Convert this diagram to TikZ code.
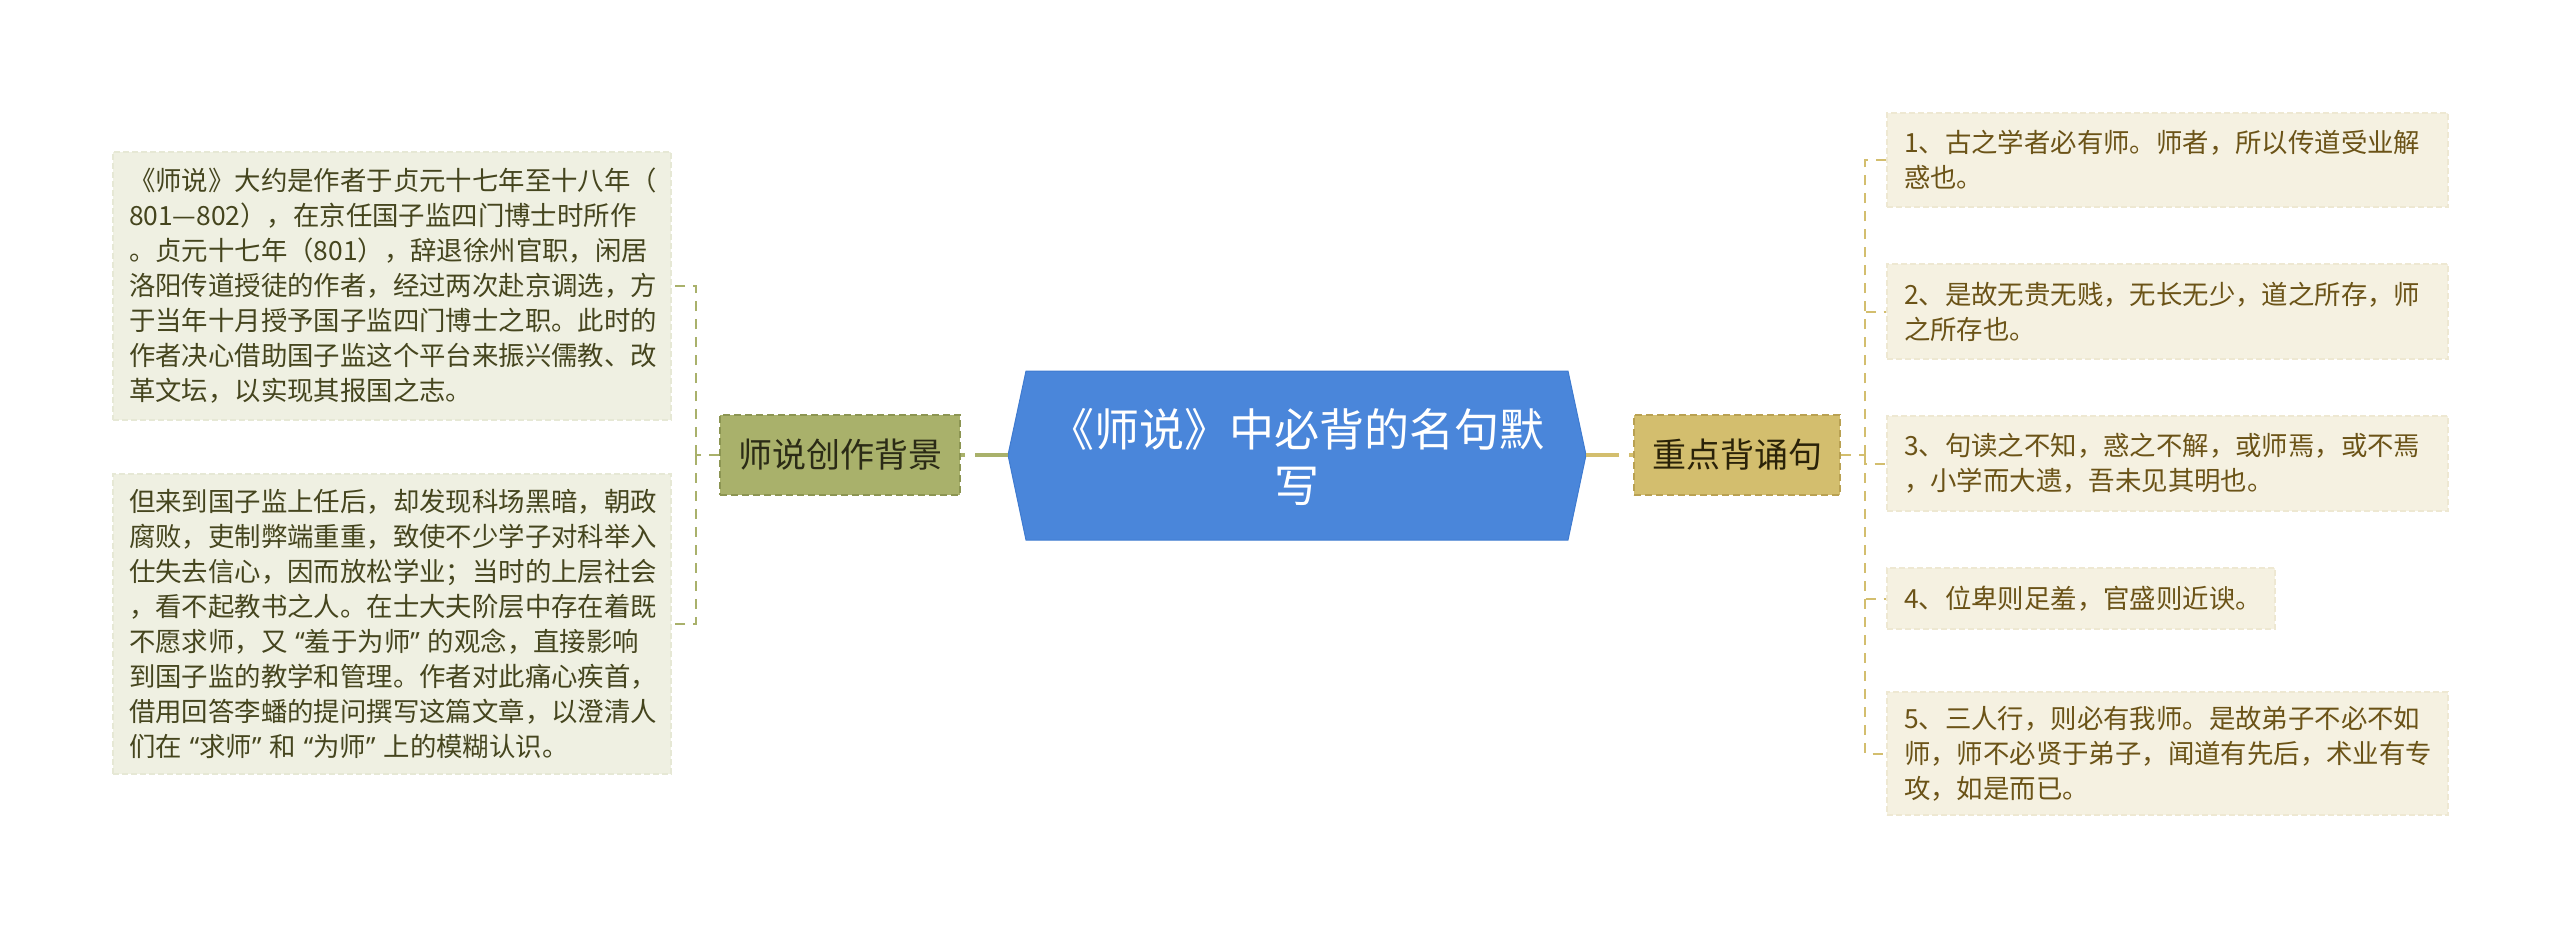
\documentclass[tikz,border=0pt]{standalone}
\usepackage{fontspec}
\setmainfont{Noto Sans CJK SC}
\newfontfamily\qfont{Noto Sans}
\newcommand{\myoq}{\kern8pt{\qfont “}}
\newcommand{\mycq}{{\qfont ”}\kern8pt}
\definecolor{cblue}{HTML}{4A86DA}
\definecolor{cblueline}{HTML}{3F7BD0}
\definecolor{lnfill}{HTML}{A9B16B}
\definecolor{lnline}{HTML}{8C9552}
\definecolor{lntext}{HTML}{2B2B16}
\definecolor{rnfill}{HTML}{D3BE6E}
\definecolor{rnline}{HTML}{B9A152}
\definecolor{rntext}{HTML}{2A2208}
\definecolor{lfill}{HTML}{EFF0E2}
\definecolor{lline}{HTML}{E6E8D5}
\definecolor{ltext}{HTML}{45451E}
\definecolor{rfill}{HTML}{F5F1E1}
\definecolor{rline}{HTML}{EEE8D2}
\definecolor{rtext}{HTML}{6B5317}
\begin{document}
\begin{tikzpicture}[x=1pt,y=-1pt,
  leafl/.style={fill=lfill, draw=lline, line width=1.2pt, dash pattern=on 6pt off 3pt,
    inner xsep=16pt, inner ysep=0pt, text width=#1, align=left, text=ltext,
    font=\fontsize{26.4pt}{35pt}\selectfont},
  leafr/.style={fill=rfill, draw=rline, line width=1.2pt, dash pattern=on 6pt off 3pt,
    inner xsep=17pt, inner ysep=0pt, text width=#1, align=left, text=rtext,
    font=\fontsize{26.4pt}{35pt}\selectfont},
  subl/.style={fill=lnfill, draw=lnline, line width=2pt, dash pattern=on 7pt off 4pt,
    minimum width=240pt, minimum height=80pt, inner sep=0pt, text=lntext,
    font=\fontsize{34pt}{40pt}\selectfont},
  subr/.style={fill=rnfill, draw=rnline, line width=2pt, dash pattern=on 7pt off 4pt,
    minimum width=206pt, minimum height=80pt, inner sep=0pt, text=rntext,
    font=\fontsize{34pt}{40pt}\selectfont},
  ctext/.style={text=white, align=center, inner sep=0pt, font=\fontsize{45pt}{56pt}\selectfont},
  mainl/.style={draw=lnfill, line width=4pt, dash pattern=on 33pt off 10pt},
  mainr/.style={draw=rnfill, line width=4pt, dash pattern=on 33pt off 10pt},
  brl/.style={draw=lnfill, line width=2pt, dash pattern=on 10pt off 8pt},
  brr/.style={draw=rnfill, line width=2pt, dash pattern=on 10pt off 8pt}
]
\fill[white] (0,0) rectangle (2560,929);
\useasboundingbox (0,0) rectangle (2560,929);

% central topic
\filldraw[fill=cblue, draw=cblueline, line width=1pt]
  (1008,455) coordinate (cl) -- (1026,371) -- (1568,371) -- (1586,455) coordinate (cr)
  -- (1568,540) -- (1026,540) -- cycle;
\node[ctext] (center) at (1297,457) {《师说》中必背的名句默\\写};

% sub topics
\node[subl] (ls) at (840,455) {师说创作背景};
\node[subr] (rs) at (1737,455) {重点背诵句};

% left leaves
\node[leafl=526pt, minimum height=268pt] (lb1) at (392,286) {《师说》大约是作者于贞元十七年至十八年（\\801—802），在京任国子监四门博士时所作\\。贞元十七年（801），辞退徐州官职，闲居\\洛阳传道授徒的作者，经过两次赴京调选，方\\于当年十月授予国子监四门博士之职。此时的\\作者决心借助国子监这个平台来振兴儒教、改\\革文坛，以实现其报国之志。};
\node[leafl=526pt, minimum height=300pt] (lb2) at (392,624) {但来到国子监上任后，却发现科场黑暗，朝政\\腐败，吏制弊端重重，致使不少学子对科举入\\仕失去信心，因而放松学业；当时的上层社会\\，看不起教书之人。在士大夫阶层中存在着既\\不愿求师，又\myoq 羞于为师\mycq 的观念，直接影响\\到国子监的教学和管理。作者对此痛心疾首，\\借用回答李蟠的提问撰写这篇文章，以澄清人\\们在\myoq 求师\mycq 和\myoq 为师\mycq 上的模糊认识。};

% right leaves
\node[leafr=527pt, minimum height=94pt] (rb1) at (2167.5,160) {1、古之学者必有师。师者，所以传道受业解\\惑也。};
\node[leafr=527pt, minimum height=95pt] (rb2) at (2167.5,311.5) {2、是故无贵无贱，无长无少，道之所存，师\\之所存也。};
\node[leafr=527pt, minimum height=95pt] (rb3) at (2167.5,463.5) {3、句读之不知，惑之不解，或师焉，或不焉\\，小学而大遗，吾未见其明也。};
\node[leafr=354pt, minimum height=61pt] (rb4) at (2081,598.5) {4、位卑则足羞，官盛则近谀。};
\node[leafr=527pt, minimum height=123pt] (rb5) at (2167.5,753.5) {5、三人行，则必有我师。是故弟子不必不如\\师，师不必贤于弟子，闻道有先后，术业有专\\攻，如是而已。};

% main connectors
\draw[mainl] (cl) -- (ls.east);
\draw[mainr] (cr) -- (rs.west);

% left bracket
\coordinate (lj) at (696,455);
\draw[brl] (ls.west) -- (lj);
\draw[brl] (lj) |- (lb1.east);
\draw[brl] (lj) |- (lb2.east);

% right bracket
\coordinate (rj) at (1865,455);
\draw[brr] (rs.east) -- (rj);
\draw[brr] (rj) |- (rb1.west);
\draw[brr] (rj) |- (rb2.west);
\draw[brr] (rj) |- (rb3.west);
\draw[brr] (rj) |- (rb4.west);
\draw[brr] (rj) |- (rb5.west);
\end{tikzpicture}
\end{document}
